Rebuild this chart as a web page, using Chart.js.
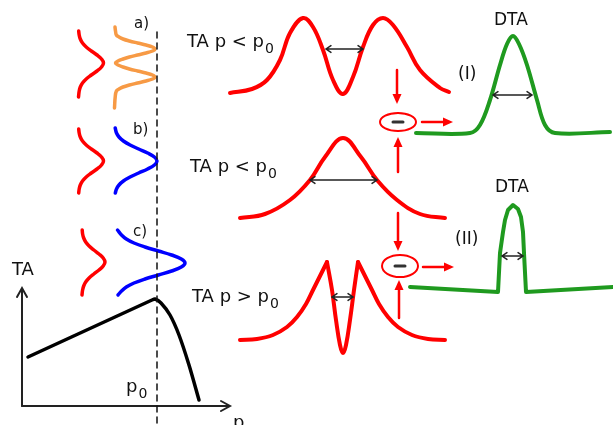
<!DOCTYPE html>
<html>
<head>
<meta charset="utf-8">
<script src="https://cdn.jsdelivr.net/npm/chart.js@4.4.1/dist/chart.umd.min.js"></script>
<style>
  html, body { margin: 0; padding: 0; background: #fff; }
  canvas { display: block; }
</style>
</head>
<body>
<canvas id="diagram" width="613" height="425"></canvas>
<script>
// curve shapes, [x, y] in picture units (y grows downward)
var redA    = [[78.7,31],[79.2,35],[80.3,39],[82.5,43],[86.2,47],[91.3,51],[97,55],[101.5,59],[103.5,63],[101.5,67],
               [97,71],[91.3,75],[86.2,79],[82.5,83],[80.3,87],[79.2,91],[78.5,97]];
var orangeA = [[115,27],[115.5,31],[116.4,35],[119,37],[123,39],[129.4,41],[137.5,43],[146,45],[152.5,47],[155,49],
               [152.5,51],[146,53],[137.5,55],[129.4,57],[123,59],[118,61],[115.5,63],[118,65],[123,67],[129.4,69],
               [137.5,71],[146,73],[152.5,75],[155,77],[152.5,79],[146,81],[137.5,83],[129.4,85],[123,87],[119,89],
               [116.4,91],[115.2,97],[114.5,108]];
var redB    = [[78.7,129],[79.2,133],[80.3,137],[82.5,141],[86.2,145],[91.3,149],[97,153],[101.5,157],[103.5,161],
               [101.5,165],[97,169],[91.3,173],[86.2,177],[82.5,181],[80.3,185],[79.2,189],[78.7,193]];
var blueB   = [[115.2,128],[116.5,133],[119,137],[123.4,141],[130.1,145],[138.7,149],[147.6,153],[154.4,157],[157,161],
               [154.4,165],[147.6,169],[138.7,173],[130.1,177],[123.4,181],[119,185],[116.5,189],[115.3,193]];
var redC    = [[82.2,230],[82.6,234],[83.7,238],[85.7,242],[89.1,246],[93.8,250],[99,254],[103.2,258],[105,262],
               [103.2,266],[99,270],[93.8,274],[89.1,278],[85.7,282],[83.7,286],[82.6,290],[82,295]];
var blueC   = [[117.5,230],[121.5,235],[126.3,239],[134,243],[145,247],[158.4,251],[171.6,255],[181.3,259],[185,263],
               [181.3,267],[171.6,271],[158.4,275],[145,279],[134,283],[126.3,287],[121.5,291],[118,295]];
var taCurve = [[28,357],[152,300],[155,299],[161,303],[170,315],[179,335],[189,365],[199,400]];

var taLow1  = [[230,93],[252,89],[267,80],[280,60],[290,33],[303,18],[313,27],[323,50],[333,80],[343,94],
               [353,77],[363,47],[373,25],[383,18],[393,25],[407,47],[420,70],[440,88],[449,92]];
var taLow2  = [[240,218],[265,214],[290,200],[310,180],[325,157],[343,138],[361,157],[377,180],[397,200],[420,214],[445,218]];
var taHigh  = [[240,340],[257,339],[273,335],[287,327],[297,317],[306,304],[313,290],[320,276],[327,262],
               [332,290],[336,320],[340,345],[343,353],[346,345],[350,320],[354,290],[358,262],
               [365,276],[372,290],[379,304],[388,317],[398,327],[412,335],[428,339],[445,340]];
var taHighCusps = [8, 16];
var dta1    = [[416,133],[470,133],[480,125],[490,100],[500,65],[507,44],[513,36],[519,44],[527,65],[537,100],[545,125],[555,133],[610,132]];
var dta2    = [[410,287],[498,292],[500,253],[503,232],[505,220],[508,210],[513,205],[518,209],[521,217],[523,232],
               [524,253],[526,292],[613,287]];

var pLine   = [[157,32],[157,425]];
var yAxis   = [[22,406],[22,289]];
var xAxis   = [[22,406],[229,406]];

// arrows: from, to, colour, width, double-headed
var arrows = [
  [[326,49],[363,49],'#222',1.5,true],
  [[310,180],[377,180],'#222',1.5,true],
  [[332,297],[353,297],'#222',1.5,true],
  [[493,95],[532,95],'#222',1.5,true],
  [[502,256],[523,256],'#222',1.5,true],
  [[397,70],[397,104],'#f00',2.5,false],
  [[398,172],[398,137],'#f00',2.5,false],
  [[398,213],[398,251],'#f00',2.5,false],
  [[399,318],[399,280],'#f00',2.5,false],
  [[422,122],[453,122],'#f00',2.5,false],
  [[423,267],[454,267],'#f00',2.5,false]
];
var minusSigns = [[398,122,18,9],[400,266,18,11]];

// text: string, x, baseline, size, subscript
var labels = [
  ['TA p < p', 187, 47, 18, '0'],
  ['TA p < p', 190, 172, 18, '0'],
  ['TA p > p', 192, 302, 18, '0'],
  ['DTA', 494, 25, 17, ''],
  ['DTA', 495, 192, 17, ''],
  ['(I)', 458, 79, 17, ''],
  ['(II)', 455, 244, 17, ''],
  ['a)', 134, 28, 15, ''],
  ['b)', 133, 134, 15, ''],
  ['c)', 133, 236, 15, ''],
  ['TA', 12, 275, 18, ''],
  ['p', 233, 428, 18, ''],
  ['p', 126, 392, 18, '0']
];

function pts(arr) {
  return arr.map(function (p) { return { x: p[0], y: p[1] }; });
}

function curve(arr, color, width, tension, dash) {
  return {
    data: pts(arr),
    showLine: true,
    borderColor: color,
    borderWidth: width,
    borderDash: dash || [],
    tension: tension,
    pointRadius: 0,
    fill: false,
    borderCapStyle: 'round',
    borderJoinStyle: 'round'
  };
}

// the sharp peaks of the p > p0 curve: one line per piece so the cusps stay pointed
var taHighParts = [
  taHigh.slice(0, taHighCusps[0] + 1),
  taHigh.slice(taHighCusps[0], taHighCusps[1] + 1),
  taHigh.slice(taHighCusps[1])
];

var decor = {
  id: 'decor',
  afterDatasetsDraw: function (chart) {
    var ctx = chart.ctx,
        sx = chart.scales.x,
        sy = chart.scales.y;
    function X(v) { return sx.getPixelForValue(v); }
    function Y(v) { return sy.getPixelForValue(v); }

    ctx.save();
    arrows.forEach(function (a) {
      var x1 = X(a[0][0]), y1 = Y(a[0][1]), x2 = X(a[1][0]), y2 = Y(a[1][1]);
      var ang = Math.atan2(y2 - y1, x2 - x1);
      ctx.strokeStyle = a[2];
      ctx.fillStyle = a[2];
      ctx.lineWidth = a[3];
      ctx.lineCap = 'round';
      if (a[4]) {
        ctx.beginPath();
        ctx.moveTo(x1, y1); ctx.lineTo(x2, y2);
        [[x2, y2, ang], [x1, y1, ang + Math.PI]].forEach(function (h) {
          ctx.moveTo(h[0] - 6 * Math.cos(h[2] - 0.6), h[1] - 6 * Math.sin(h[2] - 0.6));
          ctx.lineTo(h[0], h[1]);
          ctx.lineTo(h[0] - 6 * Math.cos(h[2] + 0.6), h[1] - 6 * Math.sin(h[2] + 0.6));
        });
        ctx.stroke();
      } else {
        var bx = x2 - 10 * Math.cos(ang), by = y2 - 10 * Math.sin(ang);
        ctx.beginPath();
        ctx.moveTo(x1, y1); ctx.lineTo(bx, by);
        ctx.stroke();
        ctx.beginPath();
        ctx.moveTo(x2, y2);
        ctx.lineTo(bx + 4.5 * Math.sin(ang), by - 4.5 * Math.cos(ang));
        ctx.lineTo(bx - 4.5 * Math.sin(ang), by + 4.5 * Math.cos(ang));
        ctx.closePath();
        ctx.fill();
      }
    });

    // axis arrow heads
    ctx.strokeStyle = '#222';
    ctx.lineWidth = 2;
    ctx.beginPath();
    ctx.moveTo(X(17), Y(297)); ctx.lineTo(X(22), Y(288)); ctx.lineTo(X(27), Y(297));
    ctx.moveTo(X(221), Y(401)); ctx.lineTo(X(230), Y(406)); ctx.lineTo(X(221), Y(411));
    ctx.stroke();

    minusSigns.forEach(function (m) {
      ctx.strokeStyle = '#f00';
      ctx.lineWidth = 2;
      ctx.beginPath();
      ctx.ellipse(X(m[0]), Y(m[1]), m[2], m[3], 0, 0, Math.PI * 2);
      ctx.stroke();
      ctx.strokeStyle = '#333';
      ctx.lineWidth = 3;
      ctx.beginPath();
      ctx.moveTo(X(m[0] - 5), Y(m[1])); ctx.lineTo(X(m[0] + 5), Y(m[1]));
      ctx.stroke();
    });

    ctx.fillStyle = '#111';
    ctx.textBaseline = 'alphabetic';
    ctx.textAlign = 'left';
    labels.forEach(function (l) {
      ctx.font = l[3] + 'px "DejaVu Sans", sans-serif';
      ctx.fillText(l[0], X(l[1]), Y(l[2]));
      if (l[4]) {
        var w = ctx.measureText(l[0]).width;
        ctx.font = Math.round(l[3] * 0.78) + 'px "DejaVu Sans", sans-serif';
        ctx.fillText(l[4], X(l[1]) + w + 1, Y(l[2] + 6));
      }
    });
    ctx.restore();
  }
};

new Chart(document.getElementById('diagram').getContext('2d'), {
  type: 'scatter',
  data: {
    datasets: [
      curve(pLine, '#111', 1.5, 0, [6, 5]),
      curve(yAxis, '#222', 2, 0),
      curve(xAxis, '#222', 2, 0),
      curve(redA, '#f00', 3.5, 0.4),
      curve(orangeA, '#f79a45', 3.5, 0.4),
      curve(redB, '#f00', 3.5, 0.4),
      curve(blueB, '#00f', 3.5, 0.4),
      curve(redC, '#f00', 3.5, 0.4),
      curve(blueC, '#00f', 3.5, 0.4),
      curve(taCurve, '#000', 3.5, 0.3),
      curve(taLow1, '#f00', 4, 0.4),
      curve(taLow2, '#f00', 4, 0.4),
      curve(taHighParts[0], '#f00', 4, 0.4),
      curve(taHighParts[1], '#f00', 4, 0.4),
      curve(taHighParts[2], '#f00', 4, 0.4),
      curve(dta1, '#1f9a1f', 4, 0.35),
      curve(dta2, '#1f9a1f', 4, 0)
    ]
  },
  options: {
    responsive: false,
    animation: false,
    layout: { padding: 0 },
    plugins: { legend: { display: false }, tooltip: { enabled: false } },
    scales: {
      x: { type: 'linear', min: 0, max: 613, display: false },
      y: { type: 'linear', min: 0, max: 425, reverse: true, display: false }
    }
  },
  plugins: [decor]
});
</script>
</body>
</html>
